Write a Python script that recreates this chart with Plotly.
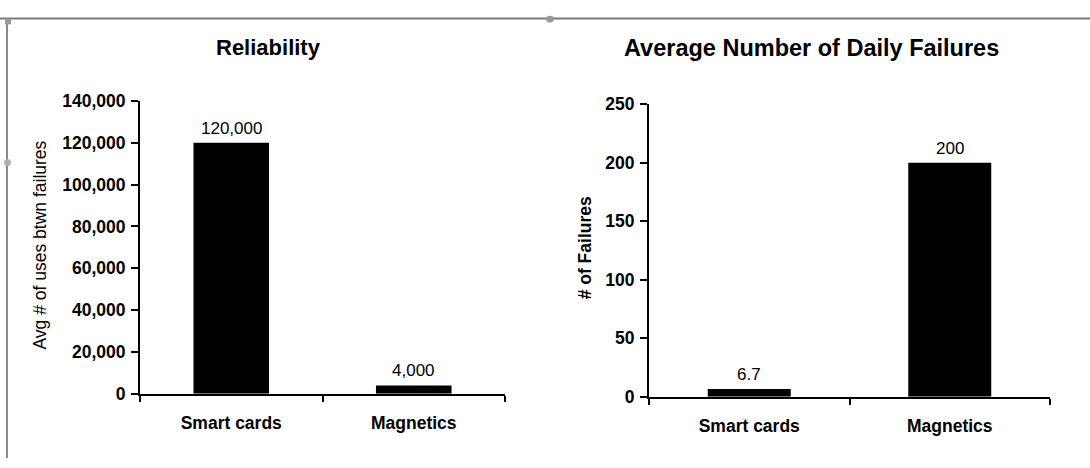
import plotly.graph_objects as go

categories = ["Smart cards", "Magnetics"]
reliability = [120000, 4000]
failures = [6.7, 200]
rel_labels = ["120,000", "4,000"]
fail_labels = ["6.7", "200"]
rel_ticks = [0, 20000, 40000, 60000, 80000, 100000, 120000, 140000]
fail_ticks = [0, 50, 100, 150, 200, 250]

W, H = 1090, 468
FONT = "Liberation Sans, Arial, Helvetica, sans-serif"

def px(x):
    return x / W

def py(y):
    return 1 - y / H

fig = go.Figure()
fig.add_trace(go.Bar(x=categories, y=reliability, marker_color="black",
                     marker_line_width=0, xaxis="x", yaxis="y", showlegend=False))
fig.add_trace(go.Bar(x=categories, y=failures, marker_color="black",
                     marker_line_width=0, xaxis="x2", yaxis="y2", showlegend=False))

tickfont = dict(family=FONT, size=17.5, color="black", weight="bold")
common_x = dict(showline=True, linecolor="black", linewidth=2, ticks="outside",
                ticklen=6, tickwidth=2, tickcolor="black", tickson="boundaries",
                tickfont=tickfont, ticklabelstandoff=12, showgrid=False,
                zeroline=False, fixedrange=True)
common_y = dict(showline=True, linecolor="black", linewidth=2, ticks="outside",
                ticklen=7, tickwidth=2, tickcolor="black", tickfont=tickfont,
                showgrid=False, zeroline=False, ticklabelstandoff=2)

fig.update_layout(
    width=W, height=H,
    margin=dict(l=0, r=0, t=0, b=0),
    paper_bgcolor="white", plot_bgcolor="white",
    bargap=0.586,
    xaxis=dict(domain=[px(140), px(505)], anchor="y", **common_x),
    yaxis=dict(domain=[py(401), py(95)], anchor="x", range=[0, 140000],
               tickvals=rel_ticks, tickformat=",", **common_y),
    xaxis2=dict(domain=[px(649), px(1050)], anchor="y2", **common_x),
    yaxis2=dict(domain=[py(404), py(98.5)], anchor="x2", range=[0, 250],
                tickvals=fail_ticks, **common_y),
)

annotations = []
for c, v, t in zip(categories, reliability, rel_labels):
    annotations.append(dict(x=c, y=v, xref="x", yref="y", text=t, showarrow=False,
                            yanchor="bottom", yshift=3,
                            font=dict(family=FONT, size=17, color="black")))
for c, v, t in zip(categories, failures, fail_labels):
    annotations.append(dict(x=c, y=v, xref="x2", yref="y2", text=t, showarrow=False,
                            yanchor="bottom", yshift=3,
                            font=dict(family=FONT, size=17, color="black")))

# subplot titles
annotations.append(dict(x=px(268), y=py(39), xref="paper", yref="paper",
                        text="Reliability", showarrow=False,
                        xanchor="center", yanchor="middle",
                        font=dict(family=FONT, size=22, color="black", weight="bold")))
annotations.append(dict(x=px(811), y=py(40), xref="paper", yref="paper",
                        text="Average Number of Daily Failures", showarrow=False,
                        xanchor="center", yanchor="middle",
                        font=dict(family=FONT, size=23.5, color="black", weight="bold")))
# y-axis titles
annotations.append(dict(x=px(40), y=py(246), xref="paper", yref="paper",
                        text="Avg # of uses btwn failures", showarrow=False,
                        textangle=-90, xanchor="center", yanchor="middle",
                        font=dict(family=FONT, size=17.5, color="black")))
annotations.append(dict(x=px(585), y=py(249), xref="paper", yref="paper",
                        text="# of Failures", showarrow=False,
                        textangle=-90, xanchor="center", yanchor="middle",
                        font=dict(family=FONT, size=17.5, color="black", weight="bold")))
fig.update_layout(annotations=annotations)

# scan frame lines and canvas handles
fig.add_shape(type="line", xref="paper", yref="paper", x0=0, x1=1, y0=py(9), y1=py(9),
              line=dict(color="#7a7a7a", width=2))
fig.add_shape(type="line", xref="paper", yref="paper", x0=px(7), x1=px(7), y0=py(9), y1=0,
              line=dict(color="#8a8a8a", width=2))
fig.add_shape(type="rect", xref="paper", yref="paper", x0=px(5), x1=px(11),
              y0=py(15), y1=py(9), fillcolor="#9a9a9a", line_width=0)
fig.add_shape(type="circle", xref="paper", yref="paper", x0=px(546), x1=px(554),
              y0=py(13), y1=py(6), fillcolor="#9a9a9a", line_width=0)
fig.add_shape(type="circle", xref="paper", yref="paper", x0=px(4), x1=px(11),
              y0=py(163), y1=py(156), fillcolor="#b0b0b0", line_width=0)

fig.write_html("out.html")
